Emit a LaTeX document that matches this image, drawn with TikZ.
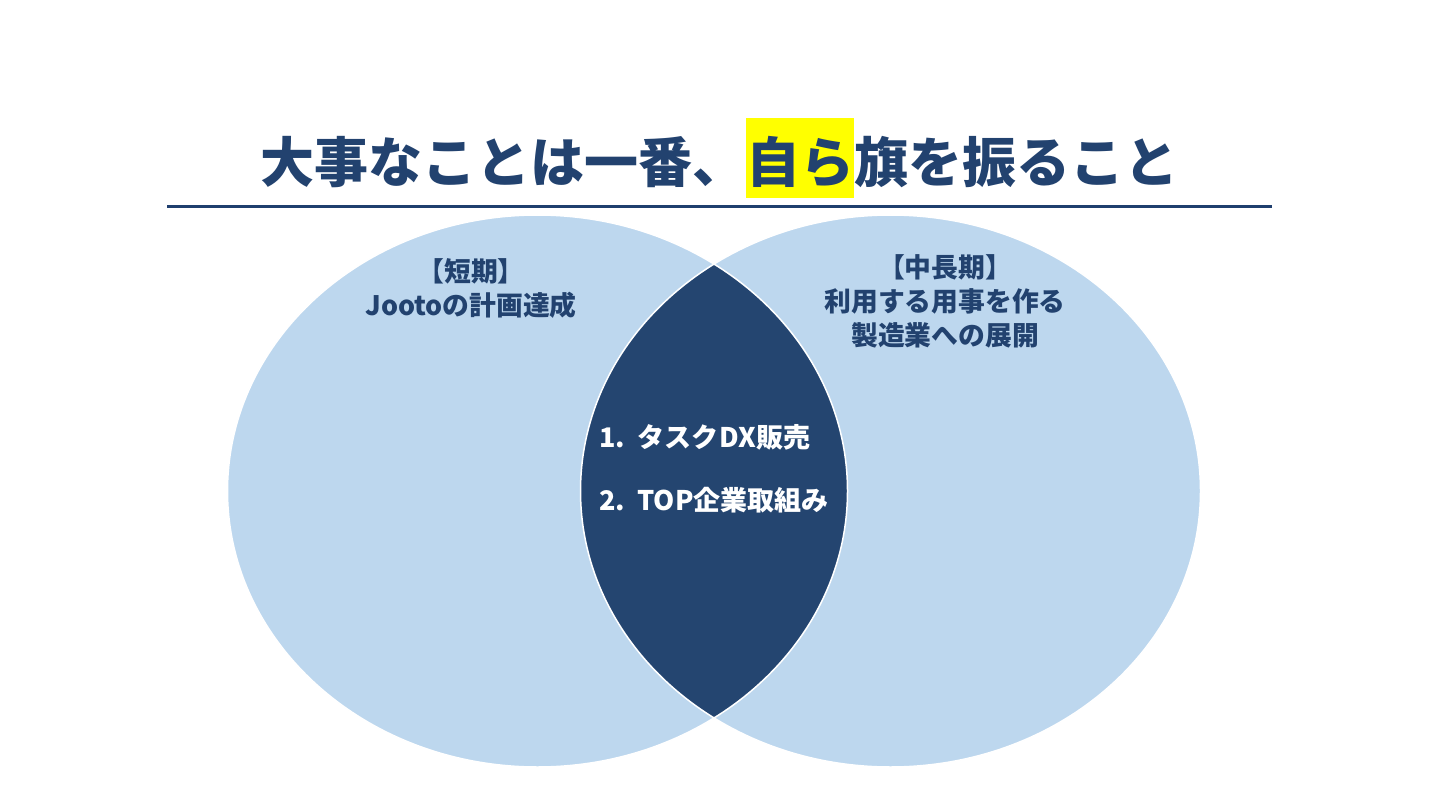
\documentclass[tikz,border=0pt]{standalone}
\usepackage{fontspec}
\setmainfont{Noto Sans CJK JP}
\definecolor{navy}{HTML}{1F3F6E}
\definecolor{titlecol}{HTML}{22426F}
\definecolor{lightblue}{HTML}{BDD7EE}
\definecolor{lenscol}{HTML}{244570}
\definecolor{hl}{HTML}{FFFF00}
\begin{document}
\begin{tikzpicture}[x=1pt,y=-1pt,
  title/.style={font=\fontsize{54}{60}\selectfont\bfseries, text=titlecol, inner sep=0pt},
  label/.style={font=\fontsize{26.8}{34}\selectfont\bfseries, text=titlecol, align=center, inner sep=0pt},
  item/.style={font=\fontsize{27}{30}\selectfont\bfseries, text=white, inner sep=0pt, anchor=west},
  ell/.style={x radius=310pt, y radius=276pt}]
\useasboundingbox (0,0) rectangle (1440,810);
\fill[white] (0,0) rectangle (1440,810);
% title
\node[title] (ttl) at (719,158) {大事なことは一番、{\fboxsep=0pt\colorbox{hl}{\rule[-0.28em]{0pt}{1.48em}自ら}}旗を振ること};
\coordinate (la) at (167,207);
\coordinate (lb) at (1272,207);
\draw[navy, line width=3pt] (la) -- (lb);
% ellipses
\coordinate (cl) at (537.5,491);
\coordinate (cr) at (890.5,491);
\fill[lightblue] (cl) ellipse [ell];
\fill[lightblue] (cr) ellipse [ell];
\begin{scope}
\clip (cl) ellipse [ell];
\fill[lenscol] (cr) ellipse [ell];
\end{scope}
\draw[white, line width=1.5pt] (cl) ellipse [ell];
\draw[white, line width=1.5pt] (cr) ellipse [ell];
% labels
\node[label] (short) at (471,289) {【短期】\\Jootoの計画達成};
\node[label] (long) at (945,301) {【中長期】\\利用する用事を作る\\製造業への展開};
\node[item] (i1) at (599,437) {1.\ \ タスク\kern1ptDX販売};
\node[item] (i2) at (599,500) {2.\ \ TOP企業取組み};
\end{tikzpicture}
\end{document}
